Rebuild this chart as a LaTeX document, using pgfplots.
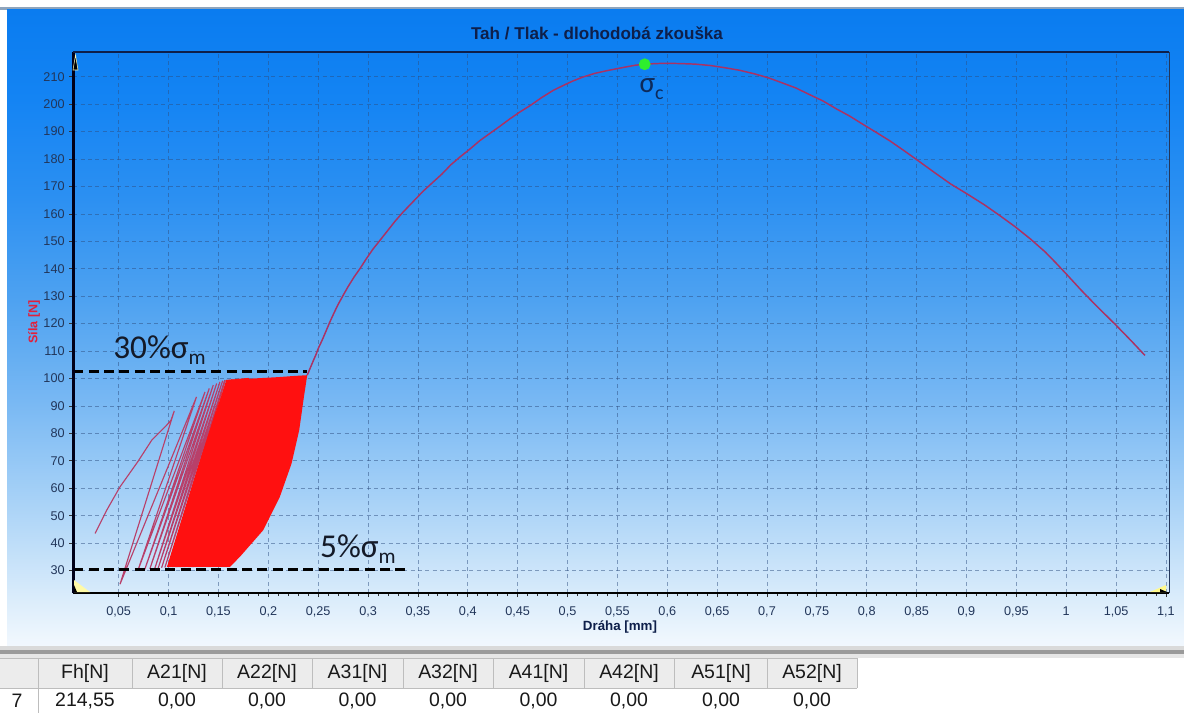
\documentclass[border=0pt]{standalone}
\usepackage{pgfplots}
\pgfplotsset{compat=1.18}
\usepackage{fontspec}
\setmainfont{Liberation Sans}
\newfontfamily\calibri{Carlito}

\definecolor{curve}{HTML}{AA3264}
\definecolor{cyc}{HTML}{B8406A}
\definecolor{dense}{HTML}{FF1010}
\definecolor{ticklab}{HTML}{22365A}
\definecolor{titlecol}{HTML}{0E1F4A}
\definecolor{gridcol}{HTML}{2E4E80}
\definecolor{sigmacol}{HTML}{0D2A5A}
\definecolor{labcol}{HTML}{141A28}
\definecolor{sigmagreen}{HTML}{2EEE2E}
\definecolor{ylabred}{HTML}{E0203C}
\definecolor{framegray}{HTML}{8EA4BC}
\definecolor{headbg}{HTML}{ECECEC}
\definecolor{cellline}{HTML}{BDBDBD}
\definecolor{sepA}{HTML}{DADADA}
\definecolor{sepB}{HTML}{9A9A9A}
\definecolor{sepC}{HTML}{E6E6E6}
\definecolor{p0}{HTML}{F2F8FE}
\definecolor{p1}{HTML}{DCEDFB}
\definecolor{p2}{HTML}{A8D2F7}
\definecolor{p3}{HTML}{78B8F3}
\definecolor{p4}{HTML}{4EA2F1}
\definecolor{p5}{HTML}{2C90F2}
\definecolor{p6}{HTML}{1484F3}
\definecolor{p7}{HTML}{0A7CF0}

% panel background, light at the bottom, deep blue at the top
\pgfdeclareverticalshading{panel}{100bp}{%
  color(0bp)=(p0); color(25bp)=(p0); color(28.5bp)=(p1); color(36.4bp)=(p2);
  color(44.3bp)=(p3); color(52.2bp)=(p4); color(60.1bp)=(p5); color(68bp)=(p6);
  color(75bp)=(p7); color(100bp)=(p7)}

\begin{document}
\begin{tikzpicture}
\begin{scope}[x=0.75pt,y=-0.75pt]
  \useasboundingbox (0,0) rectangle (1184,713);
  \fill[white] (0,0) rectangle (1184,713);
  \fill[framegray] (0,7) rectangle (1184,10);
  \shade[shading=panel] (7,10) rectangle (1184,646);
  \fill[sepA] (0,646) rectangle (1184,650);
  \fill[sepB] (0,650) rectangle (1184,654);
  \fill[sepC] (0,654) rectangle (1184,658);
  % result table
  \fill[headbg] (0,658) rectangle (857,688);
  \draw[cellline] (0,658.5) -- (857,658.5);
  \draw[cellline] (0,688) -- (857,688);
  \foreach \xx in {38,132,222,312,403,493,584,674.5,767.6,857}
    \draw[cellline] (\xx,658) -- (\xx,688);
  \draw[cellline] (38,688) -- (38,713);
  \begin{scope}[every node/.style={font=\fontsize{14.6}{16}\selectfont, text=black!90}]
    \node at (85,673) {Fh[N]};
    \node at (177,673) {A21[N]};
    \node at (267,673) {A22[N]};
    \node at (357.5,673) {A31[N]};
    \node at (448,673) {A32[N]};
    \node at (538.5,673) {A41[N]};
    \node at (629,673) {A42[N]};
    \node at (721,673) {A51[N]};
    \node at (812,673) {A52[N]};
    \node at (17,701) {7};
    \node at (85,701) {214,55};
    \foreach \xx in {177,267,357.5,448,538.5,629,721,812}
      \node at (\xx,701) {0,00};
  \end{scope}
  % titles
  \node[font=\bfseries\fontsize{12.8}{14}\selectfont, text=titlecol] at (597,33)
    {Tah / Tlak - dlohodobá zkouška};
  \node[font=\bfseries\fontsize{10}{12}\selectfont, text=titlecol] at (620,627)
    {Dráha [mm]};
  \node[font=\bfseries\fontsize{9.4}{11}\selectfont, text=ylabred, rotate=90] at (34,322)
    {Síla [N]};
\end{scope}

\begin{axis}[
  at={(55pt,-444.75pt)}, anchor=south west,
  scale only axis, width=822pt, height=405.5pt,
  xmin=0.0045, xmax=1.1034, ymin=21.8, ymax=218.9,
  axis line style={draw=none},
  xtick={0.05,0.1,0.15,0.2,0.25,0.3,0.35,0.4,0.45,0.5,0.55,0.6,0.65,0.7,0.75,0.8,0.85,0.9,0.95,1,1.05,1.1},
  xticklabels={{0,05},{0,1},{0,15},{0,2},{0,25},{0,3},{0,35},{0,4},{0,45},{0,5},{0,55},{0,6},{0,65},{0,7},{0,75},{0,8},{0,85},{0,9},{0,95},{1},{1,05},{1,1}},
  ytick={30,40,50,60,70,80,90,100,110,120,130,140,150,160,170,180,190,200,210},
  yticklabels={30,40,50,60,70,80,90,100,110,120,130,140,150,160,170,180,190,200,210},
  minor x tick num=4,
  tick pos=left, tick align=outside,
  major tick length=3pt, minor tick length=2pt,
  every tick/.style={draw=black!80, line width=0.6pt},
  grid=major,
  major grid style={draw=gridcol, opacity=0.5, line width=0.6pt, dash pattern=on 3pt off 2.5pt},
  tick label style={font=\fontsize{9.5}{11}\selectfont, text=ticklab},
  xticklabel style={yshift=-4pt},
  after end axis/.code={
    \draw[line width=2pt, black] (rel axis cs:0,0) -- (rel axis cs:1,0);
    \draw[line width=2pt, black!90!blue] (rel axis cs:0,0) -- (rel axis cs:0,1);
    \draw[line width=1.5pt, titlecol] (rel axis cs:0,1) -- (rel axis cs:1,1);
    \draw[line width=1pt, ticklab] (rel axis cs:1,0) -- (rel axis cs:1,1);
  },
]
% saturated band of the many late load cycles
\addplot[draw=none, fill=dense] coordinates {
  (0.107,31.3) (0.1615,31.3) (0.1715,35.0) (0.1949,44.7) (0.2116,56.9)
  (0.2233,69.0) (0.2310,81.2) (0.2357,93.3) (0.2390,101.2) (0.225,100.9)
  (0.210,100.5) (0.195,100.2) (0.180,99.9) (0.170,99.6) (0.161,99.2)} -- cycle;
% cycles where the lines begin to merge
\addplot[dense, line width=0.9pt] coordinates {
  (0.1565,99.4) (0.0990,31.3) (0.1585,99.5) (0.1005,31.3) (0.1597,99.5)
  (0.1020,31.3) (0.1609,99.6) (0.1034,31.3) (0.1621,99.6) (0.1048,31.3)
  (0.1633,99.7) (0.1062,31.3) (0.1645,99.7) (0.1076,31.3) (0.1657,99.7)
  (0.1090,31.3) (0.1668,99.8) (0.1103,31.3) (0.1679,99.8) (0.1116,31.3)
  (0.1690,99.8) (0.1129,31.3) (0.1701,99.9) (0.1142,31.3) (0.1712,99.9)
  (0.1155,31.3) (0.1723,99.9) (0.1168,31.3) (0.1734,100.0) (0.1181,31.3)
  (0.1745,100.0) (0.1194,31.3) (0.1756,100.0) (0.1207,31.3) (0.1767,100.1)
  (0.1220,31.3) (0.1778,100.1) (0.1233,31.3) (0.1789,100.1) (0.1246,31.3)
  (0.1800,100.2)};
% first loading and the early, separate cycles
\addplot[cyc, line width=0.85pt] coordinates {
  (0.0263,43.5) (0.0380,52.0) (0.0513,60.5) (0.0690,69.6) (0.0831,77.5)
  (0.0981,83.0) (0.1024,84.8) (0.1057,88.2)
  (0.0513,25.0) (0.1280,93.3) (0.0694,30.2) (0.1365,95.1) (0.0761,30.4)
  (0.1408,96.4) (0.0812,30.6) (0.1448,97.6) (0.0862,30.8) (0.1482,98.2)
  (0.0896,30.9) (0.1515,98.8) (0.0930,31.0) (0.1542,99.2) (0.0963,31.1)
  (0.1565,99.4)};
% final loading up to fracture
\addplot[curve, line width=1.1pt] coordinates {
  (0.2390,101.2) (0.2420,103.8) (0.2450,106.4) (0.2480,108.9) (0.2500,110.9)
  (0.2540,114.0) (0.2580,117.4) (0.2617,120.6) (0.2660,124.0) (0.2700,127.0)
  (0.2750,130.3) (0.2800,133.5) (0.2860,137.0) (0.2918,140.0) (0.2980,143.5)
  (0.3050,147.2) (0.3118,150.3) (0.3190,153.6) (0.3270,157.3) (0.3352,160.7)
  (0.3450,164.4) (0.3550,168.2) (0.3652,171.6) (0.3740,174.5) (0.3830,177.9)
  (0.3920,180.7) (0.4020,183.6) (0.4120,186.7) (0.4220,189.3) (0.4320,191.9)
  (0.4420,194.6) (0.4520,197.1) (0.4630,199.6) (0.4740,202.4) (0.4855,205.0)
  (0.4950,206.7) (0.5050,208.4) (0.5155,209.9) (0.5270,211.2) (0.5380,212.1)
  (0.5490,212.9) (0.5590,213.6) (0.5680,214.2) (0.5774,214.55)
  (0.5880,214.8) (0.6000,214.9) (0.6135,214.8) (0.6280,214.6) (0.6430,214.1)
  (0.6575,213.3) (0.6720,212.4) (0.6870,211.1) (0.7015,209.6) (0.7150,207.8)
  (0.7290,205.9) (0.7420,203.6) (0.7560,201.2) (0.7690,198.4) (0.7827,195.7)
  (0.7960,192.7) (0.8100,189.6) (0.8233,186.6) (0.8380,182.9) (0.8538,178.8)
  (0.8690,174.8) (0.8842,170.9) (0.9010,167.2) (0.9180,163.3) (0.9330,159.5)
  (0.9485,155.4) (0.9640,150.9) (0.9790,146.1) (0.9900,142.0) (0.9993,138.4)
  (1.0150,132.2) (1.0297,126.7) (1.0400,123.0) (1.0500,119.4) (1.0650,113.8)
  (1.0790,108.4)};
% load limits of the cycling
\addplot[black, line width=2pt, dash pattern=on 7.5pt off 4pt] coordinates {(0.0045,102.5) (0.2386,102.5)};
\addplot[black, line width=2pt, dash pattern=on 7.5pt off 4pt] coordinates {(0.0045,30.4) (0.337,30.4)};
% maximum force
\addplot[only marks, mark=*, mark size=4.2pt, color=sigmagreen] coordinates {(0.5774,214.55)};
\node[anchor=base west, inner sep=0pt, font=\calibri\fontsize{25}{25}\selectfont, text=labcol]
  at (axis cs:0.0443,107.4) {30\%σ\raisebox{-5pt}{\fontsize{16}{16}\selectfont m}};
\node[anchor=base west, inner sep=0pt, font=\calibri\fontsize{25}{25}\selectfont, text=labcol]
  at (axis cs:0.2517,34.9) {5\%σ\raisebox{-5pt}{\fontsize{16}{16}\selectfont m}};
\node[anchor=base west, inner sep=0pt, font=\calibri\fontsize{22}{22}\selectfont, text=sigmacol]
  at (axis cs:0.572,204.3) {σ\raisebox{-5pt}{\fontsize{15}{15}\selectfont c}};
\end{axis}

% cursor markers at the plot corners
\begin{scope}[x=0.75pt,y=-0.75pt]
  \filldraw[fill=black, draw=yellow!30, line width=0.4pt] (73,70) -- (75.5,55) -- (78,70) -- cycle;
  \fill[yellow!35] (74,580) -- (74,592) -- (90,592) -- cycle;
  \fill[black] (74,585) -- (77,592) -- (74,592) -- cycle;
  \fill[yellow!45] (1150,592) -- (1166,585) -- (1166,592) -- cycle;
  \fill[black] (1160,589) -- (1167,592) -- (1160,592) -- cycle;
\end{scope}
\end{tikzpicture}
\end{document}
